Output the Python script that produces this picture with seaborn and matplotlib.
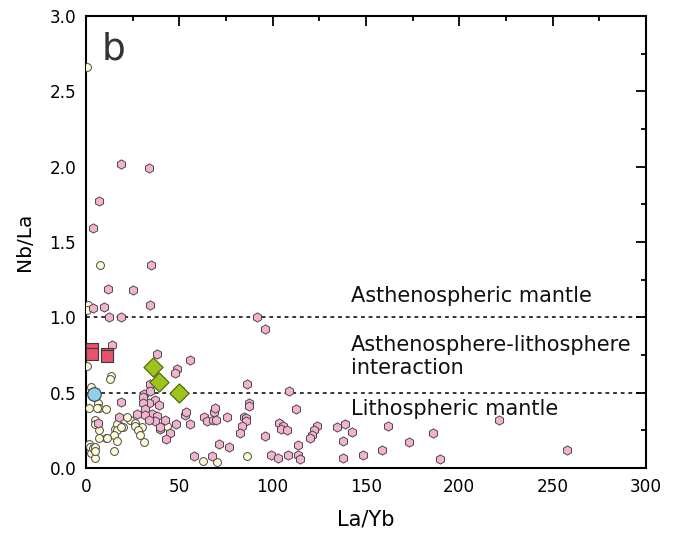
import matplotlib
matplotlib.use("Agg")
import matplotlib.pyplot as plt
from matplotlib.ticker import MultipleLocator, FormatStrFormatter
import seaborn as sns

# Pink hexagons: granitoid samples
pink_x = [18.7, 33.7, 6.9, 3.7, 34.8, 12.0, 25.2, 34.3, 3.7, 9.6, 12.3, 18.7, 91.5, 95.8,
          13.9, 37.8, 55.7, 48.5, 47.6, 34.3, 86.5, 50.3, 108.8,
          30.9, 30.4, 34.5, 37.1, 33.6, 30.5, 31.4, 38.9, 35.3, 31.8, 38.2, 36.8, 33.6,
          18.5, 17.9, 27.2, 39.8, 42.3, 39.6, 48.2, 53.0, 53.6, 55.7, 45.0, 42.8,
          63.2, 64.6, 67.8, 68.7, 69.9, 69.0, 75.4, 71.4, 76.6, 58.0, 67.3, 6.5,
          87.3, 87.3, 84.5, 85.5, 85.7, 83.4, 82.4, 112.3, 95.9,
          103.4, 105.5, 104.4, 107.7, 123.7, 122.0, 121.0, 120.0, 113.5, 113.5, 114.6,
          99.0, 103.0, 108.0,
          134.4, 138.7, 142.5, 137.7, 137.7, 148.5, 158.5, 162.0, 173.0, 186.0, 189.5,
          221.0, 257.5]
pink_y = [2.02, 1.99, 1.77, 1.59, 1.35, 1.19, 1.18, 1.08, 1.06, 1.07, 1.00, 1.00, 1.00, 0.92,
          0.82, 0.76, 0.72, 0.66, 0.63, 0.56, 0.56, 0.52, 0.51,
          0.49, 0.47, 0.51, 0.45, 0.43, 0.43, 0.39, 0.42, 0.36, 0.35, 0.345, 0.31, 0.32,
          0.44, 0.34, 0.36, 0.26, 0.32, 0.27, 0.29, 0.35, 0.37, 0.29, 0.23, 0.19,
          0.34, 0.31, 0.32, 0.37, 0.32, 0.40, 0.34, 0.16, 0.14, 0.08, 0.08, 0.30,
          0.43, 0.41, 0.34, 0.33, 0.31, 0.28, 0.23, 0.39, 0.21,
          0.30, 0.28, 0.26, 0.25, 0.28, 0.25, 0.22, 0.20, 0.15, 0.09, 0.06,
          0.085, 0.065, 0.09,
          0.27, 0.29, 0.24, 0.18, 0.065, 0.09, 0.12, 0.28, 0.17, 0.23, 0.06,
          0.32, 0.12]

# Cream circles: mafic samples
cream_x = [0.5, 7.3, 1.0, 0.5, 0.6, 13.2, 13.0, 2.9, 1.4, 6.2, 6.8, 10.7, 5.9, 4.6, 4.8,
           6.8, 23.7, 26.4, 30.0, 26.0, 17.9, 15.7, 16.4, 19.8, 16.6, 18.7, 10.7, 14.8,
           1.8, 2.3, 2.5, 5.0, 3.8, 15.2, 30.9, 43.5, 62.6, 70.2, 86.5, 4.7, 4.7,
           11.0, 6.8, 16.8, 22.0, 28.0, 29.0]
cream_y = [2.66, 1.35, 1.08, 1.05, 0.68, 0.61, 0.59, 0.54, 0.40, 0.43, 0.40, 0.39, 0.40, 0.32, 0.29,
           0.25, 0.32, 0.30, 0.27, 0.28, 0.285, 0.26, 0.29, 0.27, 0.25, 0.27, 0.20, 0.22,
           0.16, 0.14, 0.10, 0.065, 0.13, 0.11, 0.17, 0.28, 0.05, 0.04, 0.08, 0.14, 0.11,
           0.20, 0.20, 0.18, 0.34, 0.25, 0.22]

# Red squares
red_x = [3.0, 3.0, 11.1, 11.1]
red_y = [0.79, 0.757, 0.757, 0.743]

# Green diamonds
green_x = [36.0, 39.0, 49.8]
green_y = [0.67, 0.57, 0.50]

# Blue circle
blue_x = [4.1]
blue_y = [0.49]

# Reference Nb/La levels separating mantle sources
boundary_levels = [1.0, 0.5]
zone_labels = ["Asthenospheric mantle", "Asthenosphere-lithosphere\ninteraction",
               "Lithospheric mantle"]
zone_label_y = [1.14, 0.74, 0.39]

sns.set_theme(style="white")
plt.rcParams["font.family"] = ["DejaVu Sans"]
plt.rcParams["text.color"] = "black"
plt.rcParams["axes.labelcolor"] = "black"
plt.rcParams["xtick.color"] = "black"
plt.rcParams["ytick.color"] = "black"

fig = plt.figure(figsize=(6.84, 5.43), dpi=100)
ax = fig.add_axes([0.1257, 0.138, 0.8187, 0.8325])

for lvl in boundary_levels:
    ax.axhline(lvl, color="black", lw=1.1, ls=(0, (2.5, 2.5)), zorder=1)

sns.scatterplot(x=cream_x, y=cream_y, ax=ax, marker="o", s=32, color="#fffbd4",
                edgecolor="#4a4a4a", linewidth=0.7, zorder=3)
sns.scatterplot(x=pink_x, y=pink_y, ax=ax, marker="h", s=44, color="#f3b2cf",
                edgecolor="#4a4a4a", linewidth=0.7, zorder=4)
sns.scatterplot(x=red_x, y=red_y, ax=ax, marker="s", s=80, color="#e8526b",
                edgecolor="#3a3a3a", linewidth=0.8, zorder=5)
sns.scatterplot(x=green_x, y=green_y, ax=ax, marker="D", s=95, color="#9dc41b",
                edgecolor="#4d5e10", linewidth=0.8, zorder=5)
sns.scatterplot(x=blue_x, y=blue_y, ax=ax, marker="o", s=95, color="#8fd0f0",
                edgecolor="#3a3a3a", linewidth=0.8, zorder=6)

for txt, ty in zip(zone_labels, zone_label_y):
    ax.text(142, ty, txt, fontsize=15, color="#111111", va="center", ha="left",
            linespacing=1.22)

ax.text(0.028, 0.925, "b", transform=ax.transAxes, fontsize=27, color="#333333",
        va="center", ha="left")

ax.set_xlim(0, 300)
ax.set_ylim(0, 3.0)
ax.xaxis.set_major_locator(MultipleLocator(50))
ax.xaxis.set_minor_locator(MultipleLocator(25))
ax.yaxis.set_major_locator(MultipleLocator(0.5))
ax.yaxis.set_minor_locator(MultipleLocator(0.25))
ax.yaxis.set_major_formatter(FormatStrFormatter("%.1f"))
ax.tick_params(which="both", direction="in", top=True, right=True, color="black",
               width=1.3)
ax.tick_params(which="major", length=7, labelsize=12.2, pad=7)
ax.tick_params(which="minor", length=3.5)
for sp in ax.spines.values():
    sp.set_color("black")
    sp.set_linewidth(1.5)

ax.set_xlabel("La/Yb", fontsize=15, labelpad=10)
ax.set_ylabel("Nb/La", fontsize=14.5, labelpad=11)

fig.savefig("out.png", dpi=100)
